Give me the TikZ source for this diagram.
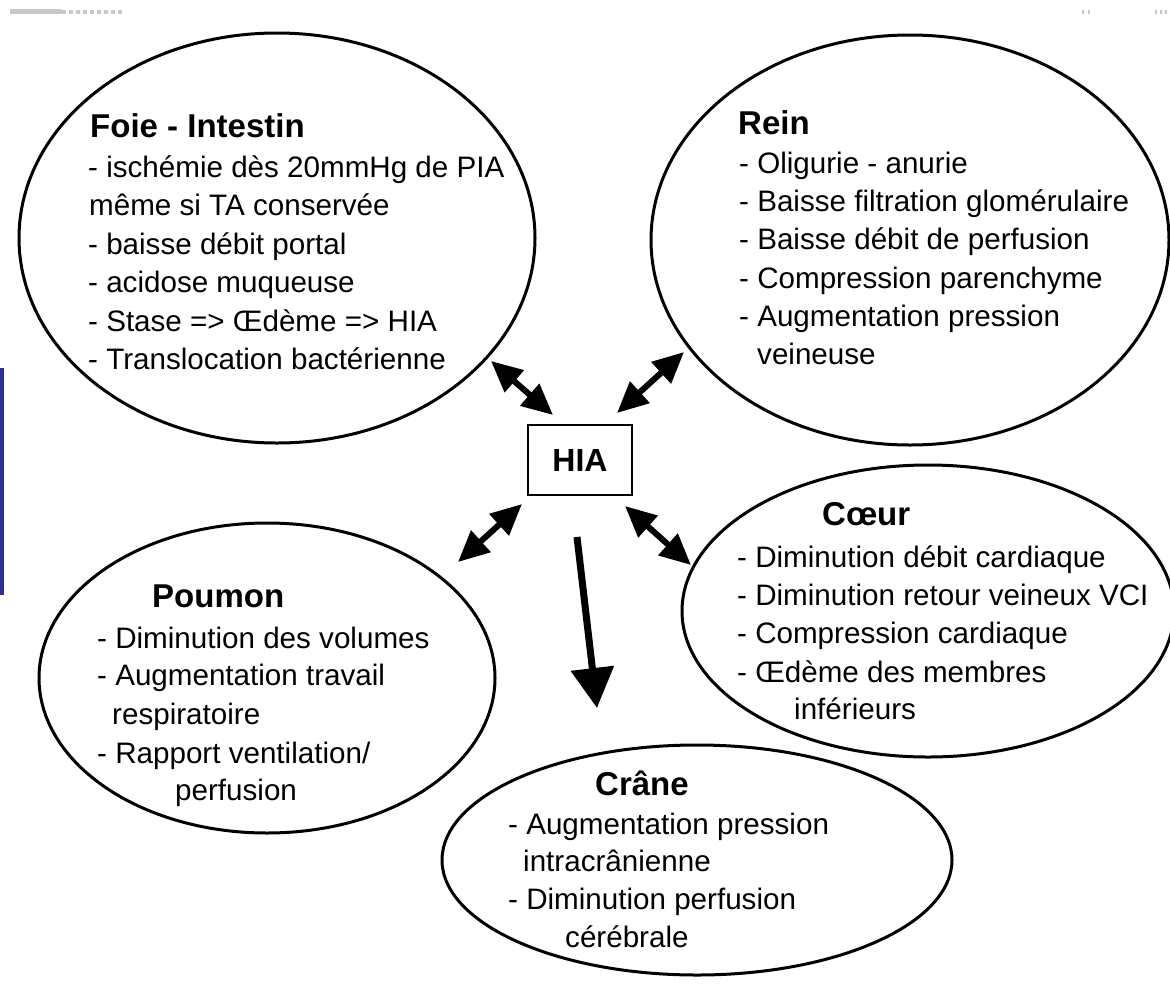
\documentclass[tikz,border=0pt]{standalone}
\usepackage{fontspec}
\setmainfont{Liberation Sans}
\usetikzlibrary{shapes.geometric,arrows.meta}
\definecolor{barblue}{RGB}{46,49,146}
\definecolor{scangray}{RGB}{200,200,200}
\begin{document}
\begin{tikzpicture}[x=1pt,y=-1pt,
  ell/.style={draw, line width=3pt, ellipse, inner sep=0pt},
  body/.style={anchor=base west, inner sep=0pt, font=\fontsize{29.6}{38}\selectfont},
  ttl/.style={anchor=base west, inner sep=0pt, font=\fontsize{33}{38}\selectfont\bfseries},
  hiabox/.style={draw, line width=2pt, inner sep=0pt, minimum width=104pt, minimum height=70pt, font=\fontsize{32}{38}\selectfont\bfseries},
  dbl/.style={line width=6pt, {Triangle[length=31pt,width=28pt]}-{Triangle[length=31pt,width=28pt]}},
  sgl/.style={line width=7pt, -{Triangle[length=40pt,width=42pt]}}]
\useasboundingbox (0,0) rectangle (1170,983);
\fill[white] (0,0) rectangle (1170,983);
% scan artefacts
\fill[barblue] (0,368) rectangle (4,595);
\fill[scangray] (10,9) rectangle (62,14);
\draw[scangray, line width=4pt, dash pattern=on 4pt off 3pt] (62,11.5) -- (123,11.5);
\draw[scangray, line width=4pt, dash pattern=on 2pt off 4pt] (1082,11.5) -- (1094,11.5);
\draw[scangray, line width=4pt, dash pattern=on 2pt off 3pt] (1155,11.5) -- (1170,11.5);

% ellipses
\node[ell, minimum width=516pt, minimum height=410pt] (foie) at (277,238) {};
\node[ell, minimum width=518pt, minimum height=410pt] (rein) at (910,240) {};
\node[ell, minimum width=492pt, minimum height=292pt] (coeur) at (928,611) {};
\node[ell, minimum width=456pt, minimum height=310pt] (poumon) at (267,678) {};
\node[ell, minimum width=510pt, minimum height=230pt] (crane) at (697,860) {};

% centre box
\node[hiabox] (hia) at (580,460) {HIA};

% Foie - Intestin
\node[ttl]  (f0) at (90,137)  {Foie - Intestin};
\node[body] (f1) at (88,177)  {- ischémie dès 20mmHg de PIA};
\node[body] (f2) at (89,215.5){même si TA conservée};
\node[body] (f3) at (88,254)  {- baisse débit portal};
\node[body] (f4) at (88,292.5){- acidose muqueuse};
\node[body] (f5) at (88,331)  {- Stase => Œdème => HIA};
\node[body] (f6) at (88,369.5){- Translocation bactérienne};

% Rein
\node[ttl]  (r0) at (738,134) {Rein};
\node[body] (r1) at (739,173) {- Oligurie - anurie};
\node[body] (r2) at (739,211) {- Baisse filtration glomérulaire};
\node[body] (r3) at (739,249) {- Baisse débit de perfusion};
\node[body] (r4) at (739,288) {- Compression parenchyme};
\node[body] (r5) at (739,326) {- Augmentation pression};
\node[body] (r6) at (757,364) {veineuse};

% Coeur
\node[ttl]  (c0) at (822,525) {Cœur};
\node[body] (c1) at (737,567) {- Diminution débit cardiaque};
\node[body] (c2) at (737,605) {- Diminution retour veineux VCI};
\node[body] (c3) at (737,643) {- Compression cardiaque};
\node[body] (c4) at (737,682) {- Œdème des membres};
\node[body] (c5) at (794,719) {inférieurs};

% Poumon
\node[ttl]  (p0) at (152,607) {Poumon};
\node[body] (p1) at (97,648)  {- Diminution des volumes};
\node[body] (p2) at (97,685)  {- Augmentation travail};
\node[body] (p3) at (112,724) {respiratoire};
\node[body] (p4) at (97,763)  {- Rapport ventilation/};
\node[body] (p5) at (175,800) {perfusion};

% Crane
\node[ttl]  (k0) at (595,795) {Crâne};
\node[body] (k1) at (508,834) {- Augmentation pression};
\node[body] (k2) at (523,871) {intracrânienne};
\node[body] (k3) at (508,909) {- Diminution perfusion};
\node[body] (k4) at (565,947) {cérébrale};

% arrow ends
\coordinate (af) at (491,361);  \coordinate (hf) at (553,415);
\coordinate (ar) at (684,352);  \coordinate (hr) at (617,413);
\coordinate (ap) at (458,562);  \coordinate (hp) at (522,504);
\coordinate (ac) at (691,565);  \coordinate (hc) at (625,506);
\coordinate (hk) at (577,537);  \coordinate (ak) at (597,708);

\draw[dbl] (af) -- (hf);
\draw[dbl] (ar) -- (hr);
\draw[dbl] (ap) -- (hp);
\draw[dbl] (ac) -- (hc);
\draw[sgl] (hk) -- (ak);
\end{tikzpicture}
\end{document}
